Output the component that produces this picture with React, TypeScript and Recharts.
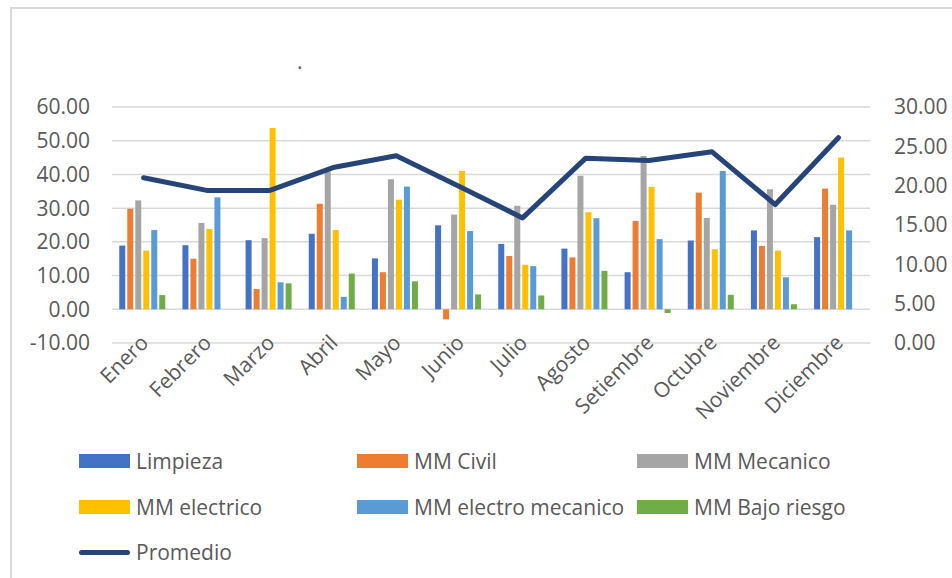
import React from "react";
import { ComposedChart, Bar, Line, XAxis, YAxis, CartesianGrid } from "recharts";

const months = [
  "Enero", "Febrero", "Marzo", "Abril", "Mayo", "Junio",
  "Julio", "Agosto", "Setiembre", "Octubre", "Noviembre", "Diciembre",
];

const limpieza = [18.9, 19.0, 20.5, 22.4, 15.1, 24.9, 19.4, 18.0, 11.0, 20.4, 23.4, 21.4];
const mmCivil = [29.8, 15.0, 6.0, 31.3, 11.0, -3.0, 15.8, 15.4, 26.2, 34.6, 18.8, 35.8];
const mmMecanico = [32.3, 25.6, 21.1, 40.9, 38.6, 28.1, 30.7, 39.6, 45.5, 27.1, 35.6, 31.0];
const mmElectrico = [17.4, 23.8, 53.8, 23.5, 32.5, 41.0, 13.2, 28.8, 36.3, 17.8, 17.4, 45.0];
const mmElectroMecanico = [23.5, 33.2, 8.0, 3.7, 36.4, 23.2, 12.8, 27.0, 20.8, 41.0, 9.5, 23.4];
const mmBajoRiesgo = [4.2, 0, 7.7, 10.6, 8.3, 4.4, 4.1, 11.4, -1.1, 4.3, 1.5, 0];
const promedio = [21.0, 19.4, 19.4, 22.3, 23.8, 19.9, 15.9, 23.5, 23.2, 24.3, 17.6, 26.1];

const leftTicks = [-10, 0, 10, 20, 30, 40, 50, 60];
const rightTicks = [0, 5, 10, 15, 20, 25, 30];

const FONT = "'Open Sans', sans-serif";
const TEXT = "#595959";

const barSeries = [
  { key: "limpieza", name: "Limpieza", color: "#4472C4" },
  { key: "civil", name: "MM Civil", color: "#ED7D31" },
  { key: "mecanico", name: "MM Mecanico", color: "#A5A5A5" },
  { key: "electrico", name: "MM electrico", color: "#FFC000" },
  { key: "electroMecanico", name: "MM electro mecanico", color: "#5B9BD5" },
  { key: "bajoRiesgo", name: "MM Bajo riesgo", color: "#70AD47" },
];
const lineColor = "#264478";

const data = months.map((month, i) => ({
  month,
  limpieza: limpieza[i],
  civil: mmCivil[i],
  mecanico: mmMecanico[i],
  electrico: mmElectrico[i],
  electroMecanico: mmElectroMecanico[i],
  bajoRiesgo: mmBajoRiesgo[i],
  promedio: promedio[i],
}));

function MonthTick({ x, y, payload }: any) {
  return (
    <g transform={`translate(${x + 6},${y - 7})`}>
      <text transform="rotate(-45)" textAnchor="end" fill={TEXT} fontSize={21} fontFamily={FONT}>
        {payload.value}
      </text>
    </g>
  );
}

// legend cells: [left, top] of each swatch
const legendCols = [79, 357, 637];
const legendRows = [454, 500, 545];

function LegendBlock() {
  const items = [
    ...barSeries.map((s) => ({ name: s.name, color: s.color, line: false })),
    { name: "Promedio", color: lineColor, line: true },
  ];
  return (
    <>
      {items.map((it, i) => {
        const left = legendCols[i % 3];
        const top = legendRows[Math.floor(i / 3)];
        return (
          <div key={it.name} style={{ position: "absolute", left, top, height: 14, display: "flex", alignItems: "center" }}>
            {it.line ? (
              <div style={{ width: 51, height: 5, borderRadius: 3, background: it.color }} />
            ) : (
              <div style={{ width: 51, height: 14, background: it.color }} />
            )}
            <span style={{ marginLeft: 6, fontSize: 21, color: TEXT, fontFamily: FONT, whiteSpace: "nowrap" }}>
              {it.name}
            </span>
          </div>
        );
      })}
    </>
  );
}

export default function App() {
  return (
    <div style={{ position: "absolute", left: 0, top: 0, width: 952, height: 578, background: "#fff", overflow: "hidden" }}>
      <div style={{ position: "absolute", left: 10, top: 7, width: 960, height: 600, borderLeft: "2px solid #d9d9d9", borderTop: "2px solid #d9d9d9" }} />
      <div style={{ position: "absolute", left: 297, top: 47, fontSize: 21, color: TEXT, fontFamily: FONT }}>.</div>
      <ComposedChart
        width={952}
        height={578}
        data={data}
        margin={{ top: 107, right: 0, left: 0, bottom: 125 }}
        barCategoryGap="11.5%"
        barGap={2}
      >
        <CartesianGrid yAxisId="left" vertical={false} stroke="#d9d9d9" strokeWidth={1.5} />
        <XAxis
          dataKey="month"
          height={110}
          axisLine={false}
          tickLine={false}
          interval={0}
          tick={<MonthTick />}
        />
        <YAxis
          yAxisId="left"
          width={112}
          domain={[-10, 60]}
          ticks={leftTicks}
          axisLine={false}
          tickLine={false}
          tickMargin={16}
          tickFormatter={(v: number) => v.toFixed(2)}
          tick={{ fill: TEXT, fontSize: 21, fontFamily: FONT }}
        />
        <YAxis
          yAxisId="right"
          orientation="right"
          width={82}
          domain={[0, 30]}
          ticks={rightTicks}
          axisLine={false}
          tickLine={false}
          tickMargin={18}
          tickFormatter={(v: number) => v.toFixed(2)}
          tick={{ fill: TEXT, fontSize: 21, fontFamily: FONT }}
        />
        {barSeries.map((s) => (
          <Bar key={s.key} yAxisId="left" dataKey={s.key} name={s.name} fill={s.color} isAnimationActive={false} />
        ))}
        <Line
          yAxisId="right"
          type="linear"
          dataKey="promedio"
          name="Promedio"
          stroke={lineColor}
          strokeWidth={5}
          strokeLinecap="round"
          strokeLinejoin="round"
          dot={false}
          activeDot={false}
          isAnimationActive={false}
        />
      </ComposedChart>
      <LegendBlock />
    </div>
  );
}
